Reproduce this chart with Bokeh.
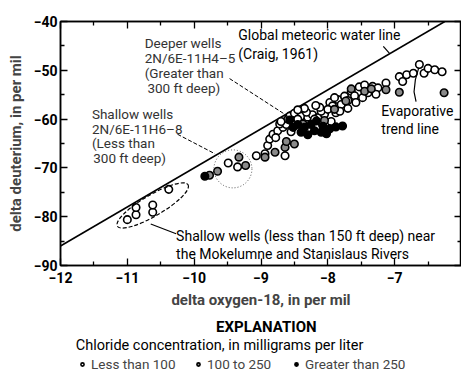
from bokeh.plotting import figure
from bokeh.models import (Label, LinearAxis, FixedTicker, Legend, LegendItem, Range1d)
from bokeh.layouts import column
from bokeh.embed import file_html
from bokeh.resources import INLINE

# ---------------- data ----------------
# Chloride < 100 mg/L (open circles)
open_x = [-11.0, -10.87, -10.87, -10.62, -10.62, -10.38,
          -9.49, -9.35, -9.07,
          -8.94, -8.9, -8.87, -8.82, -8.75, -8.67, -8.72, -8.62, -8.6, -8.57,
          -8.5, -8.5, -8.4, -8.3, -8.23, -8.15, -8.08, -8.05, -7.97, -7.93,
          -7.88, -7.85, -7.8, -7.75, -7.7, -7.65, -7.6, -7.53, -7.45, -7.4,
          -7.33, -7.25, -7.13, -6.93, -6.88, -6.82, -6.72, -6.63, -6.56, -6.5,
          -6.4, -6.29, -8.64, -8.78, -8.45, -8.2, -8.1, -8.0, -7.9, -8.32,
          -8.55, -8.7, -8.12, -7.95, -7.7,
          -8.35, -8.18, -7.82, -7.58, -7.48, -7.28, -8.45]
open_y = [-80.6, -79.6, -78.1, -79.1, -77.6, -74.4,
          -69.0, -69.8, -67.5,
          -67.1, -65.4, -64.1, -63.1, -62.4, -61.7, -61.0, -61.1, -60.0, -59.4,
          -58.8, -60.4, -59.4, -59.6, -59.1, -59.7, -61.1, -59.0, -56.6, -57.3,
          -58.7, -56.0, -57.0, -55.3, -57.8, -54.3, -55.2, -53.4, -53.0, -54.6,
          -53.3, -53.6, -52.6, -51.3, -52.3, -50.9, -50.6, -48.8, -50.6, -49.6,
          -49.9, -50.3, -67.5, -63.8, -60.0, -60.0, -58.4, -58.0, -55.6, -58.6,
          -62.6, -60.5, -57.6, -60.5, -56.2,
          -57.8, -57.2, -58.4, -56.6, -55.6, -54.9, -58.1]

# Chloride 100 to 250 mg/L (grey circles)
mid_x = [-9.77, -9.65, -9.33, -9.23, -8.94, -8.79, -8.64, -8.5, -8.62, -8.37,
         -8.05, -7.73, -7.9, -7.45, -7.35, -7.13, -6.93, -6.26, -7.65]
mid_y = [-71.5, -70.7, -67.8, -69.5, -67.8, -66.8, -65.8, -65.1, -64.6, -61.0,
         -60.3, -56.3, -58.0, -54.3, -53.8, -54.0, -54.5, -54.6, -53.8]

# Chloride > 250 mg/L (black circles)
high_x = [-9.84, -8.52, -8.45, -8.4, -8.35, -8.3, -8.25, -8.2, -8.1, -8.02,
          -8.07, -7.97, -7.88, -7.78, -8.17, -8.57]
high_y = [-71.7, -61.7, -61.1, -62.7, -61.7, -63.2, -61.1, -62.4, -62.7, -63.0,
          -61.5, -62.0, -61.6, -61.4, -60.4, -60.2]

# Global meteoric water line (Craig, 1961): dD = 8 * d18O + 10
gmwl_slope = 8.0
gmwl_intercept = 10.0
gmwl_x = [-12.0, -6.25]

x_ticks = [-12, -11, -10, -9, -8, -7, -6]
# the -6 label falls on the cut right edge of the original figure
x_tick_labels = ["\u221212", "\u221211", "\u221210", "\u22129", "\u22128", "\u22127", ""]
x_minor = [-11.5, -10.5, -9.5, -8.5, -7.5, -6.5]
y_ticks = [-90, -80, -70, -60, -50, -40]
y_tick_labels = ["\u221290", "\u221280", "\u221270", "\u221260", "\u221250", "\u221240"]
y_minor = [-85, -75, -65, -55, -45]

legend_labels = ["Less than 100", "100 to 250", "Greater than 250"]

FONT = "Roboto"

p = figure(width=461, height=311, x_range=Range1d(-12, -6), y_range=Range1d(-90, -40),
           output_backend="svg", toolbar_location=None,
           min_border_left=60, min_border_right=0, min_border_top=21, min_border_bottom=43)
p.xgrid.visible = False
p.ygrid.visible = False
p.outline_line_color = "black"
p.outline_line_width = 1.5
p.background_fill_color = "white"
p.border_fill_color = "white"

def style_axis(ax, ticks, minor, labels, show_labels):
    ax.ticker = FixedTicker(ticks=ticks, minor_ticks=minor)
    ax.major_tick_in = 7
    ax.major_tick_out = 0
    ax.minor_tick_in = 4
    ax.minor_tick_out = 0
    ax.axis_line_width = 1.5
    ax.major_tick_line_width = 1.3
    ax.minor_tick_line_width = 1.3
    if show_labels:
        ax.major_label_overrides = {t: l for t, l in zip(ticks, labels)}
        ax.major_label_text_font = FONT
        ax.major_label_text_font_style = "bold"
        ax.major_label_text_font_size = "14px"
        ax.major_label_text_color = "black"
    else:
        ax.major_label_text_font_size = "0px"
        ax.major_label_standoff = 0
        ax.axis_label_standoff = 0

xa = p.xaxis[0]
style_axis(xa, x_ticks, x_minor, x_tick_labels, True)
xa.major_label_standoff = 6
xa.axis_label = "delta oxygen-18, in per mil"
xa.axis_label_text_font = FONT
xa.axis_label_text_font_style = "bold"
xa.axis_label_text_font_size = "15px"
xa.axis_label_standoff = 5

ya = p.yaxis[0]
style_axis(ya, y_ticks, y_minor, y_tick_labels, True)
ya.major_label_standoff = 3
ya.axis_label = "delta deuterium, in per mil"
ya.axis_label_text_font = FONT
ya.axis_label_text_font_style = "bold"
ya.axis_label_text_font_size = "15px"
ya.axis_label_standoff = 6

top = LinearAxis()
style_axis(top, x_ticks, x_minor, x_tick_labels, False)
p.add_layout(top, "above")
right = LinearAxis()
style_axis(right, y_ticks, y_minor, y_tick_labels, False)
p.add_layout(right, "right")

# meteoric water line
p.line(x=gmwl_x, y=[gmwl_slope * v + gmwl_intercept for v in gmwl_x],
       line_color="black", line_width=1.6)

OPEN_STYLE = dict(size=7.5, fill_color="white", line_color="black", line_width=1.6)
MID_STYLE = dict(size=7.5, fill_color="#8a8a8a", line_color="black", line_width=1.6)
HIGH_STYLE = dict(size=7.5, fill_color="black", line_color="black", line_width=1.6)

# data points
p.scatter(open_x, open_y, **OPEN_STYLE)
p.scatter(mid_x, mid_y, **MID_STYLE)
p.scatter(high_x, high_y, **HIGH_STYLE)

# outlines around well groups
p.ellipse(x=-10.62, y=-77.7, width=82, height=21, width_units="screen", height_units="screen",
          angle=0.53, fill_color=None, line_color="black", line_width=1.2, line_dash="4 2")
p.ellipse(x=-9.42, y=-70.2, width=38, height=38, width_units="screen", height_units="screen",
          fill_color=None, line_color="#555555", line_width=1, line_dash="1 2")

# leader lines
p.line(x=[-7.17, -7.08], y=[-45.1, -46.5], line_color="black", line_width=1.2)
p.line(x=[-9.47, -8.6], y=[-51.7, -59.4], line_color="black", line_width=1, line_dash="4 2")
p.line(x=[-10.25, -9.69], y=[-63.1, -67.1], line_color="black", line_width=1, line_dash="4 2")
p.line(x=[-10.65, -10.27], y=[-81.5, -83.5], line_color="black", line_width=1.2)
p.line(x=[-6.64, -6.69, -6.71, -6.68], y=[-49.5, -51.9, -54.4, -56.4], line_color="black", line_width=1.2)

def note(fig, x, y, text, color="black", size="14px", style="normal", align="left"):
    fig.add_layout(Label(x=x, y=y, text=text, text_font=FONT, text_font_size=size,
                         text_font_style=style, text_color=color,
                         text_baseline="middle", text_align=align))

note(p, -9.34, -42.8, "Global meteoric water line")
note(p, -9.34, -46.6, "(Craig, 1961)")
note(p, -10.74, -44.5, "Deeper wells", "#333333", "13.5px")
note(p, -10.74, -47.5, "2N/6E-11H4\u20135", "#333333", "13.5px")
note(p, -10.74, -50.6, "(Greater than", "#333333", "13.5px")
note(p, -10.70, -53.7, "300 ft deep)", "#333333", "13.5px")
note(p, -11.53, -59.0, "Shallow wells", "#333333", "13.5px")
note(p, -11.53, -62.0, "2N/6E-11H6\u20138", "#333333", "13.5px")
note(p, -11.53, -64.9, "(Less than", "#333333", "13.5px")
note(p, -11.51, -67.9, "300 ft deep)", "#333333", "13.5px")
note(p, -10.27, -84.0, "Shallow wells (less than 150 ft deep) near")
note(p, -10.27, -87.6, "the Mokelumne and Stanislaus Rivers")
note(p, -7.2, -58.4, "Evaporative")
note(p, -7.2, -62.1, "trend line")

# ---------------- explanation panel (frame aligned with the plot frame) ----------------
q = figure(width=461, height=72, x_range=p.x_range, y_range=Range1d(0, 72),
           output_backend="svg", toolbar_location=None, x_axis_type=None, y_axis_type=None,
           min_border=0, outline_line_color=None)
q.xgrid.visible = False
q.ygrid.visible = False
q.background_fill_color = "white"
q.border_fill_color = "white"

note(q, -8.92, 57, "EXPLANATION", size="15px", style="bold", align="center")
note(q, -9.62, 38, "Chloride concentration, in milligrams per liter", size="14.5px", align="center")

# legend keys: renderers carry the real series but lie outside this panel's y range
legend_series = [(open_x, open_y, OPEN_STYLE), (mid_x, mid_y, MID_STYLE), (high_x, high_y, HIGH_STYLE)]
legend_px = [18, 134, 232]
for lab, (sx, sy, st), lx in zip(legend_labels, legend_series, legend_px):
    r = q.scatter(x=sx, y=sy, **dict(st, size=7))
    lg = Legend(items=[LegendItem(label=lab, renderers=[r])], location=(lx, 11),
                label_text_font=FONT, label_text_font_size="13.5px",
                glyph_width=8, glyph_height=14, label_height=14, label_standoff=5,
                padding=0, margin=0, background_fill_alpha=0, border_line_alpha=0)
    q.add_layout(lg)

open("out.html", "w").write(file_html(column(p, q, spacing=0), INLINE))
